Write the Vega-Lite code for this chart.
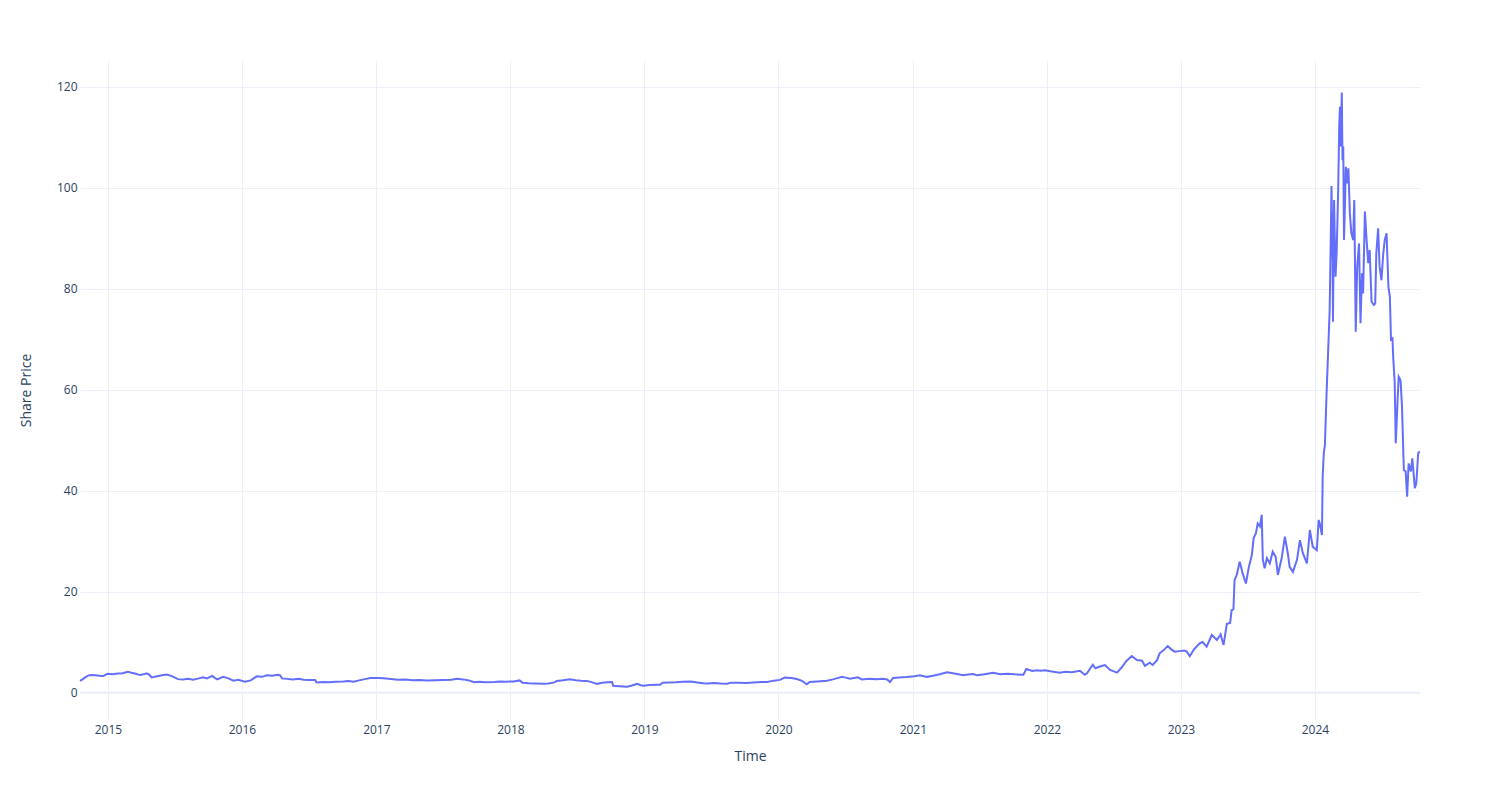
{
  "$schema": "https://vega.github.io/schema/vega-lite/v6.json",
  "width": 1340,
  "height": 660,
  "autosize": {"type": "none"},
  "padding": {"left": 80, "top": 60, "right": 80, "bottom": 80},
  "background": "white",
  "config": {"view": {"stroke": null}, "font": "Open Sans"},
  "datasets": {
    "prices": [
      {"date":"2014-10-17","price":2.3},{"date":"2014-10-24","price":2.6},{"date":"2014-10-31","price":3.0},{"date":"2014-11-07","price":3.3},{"date":"2014-11-14","price":3.45},{"date":"2014-11-28","price":3.4},{"date":"2014-12-10","price":3.3},{"date":"2014-12-19","price":3.25},{"date":"2014-12-31","price":3.7},
      {"date":"2015-01-14","price":3.6},{"date":"2015-01-28","price":3.75},{"date":"2015-02-10","price":3.8},{"date":"2015-02-24","price":4.1},{"date":"2015-03-06","price":3.9},{"date":"2015-03-18","price":3.7},{"date":"2015-03-29","price":3.45},{"date":"2015-04-08","price":3.6},{"date":"2015-04-17","price":3.8},{"date":"2015-04-24","price":3.5},{"date":"2015-04-30","price":3.0},{"date":"2015-05-15","price":3.2},{"date":"2015-05-29","price":3.4},{"date":"2015-06-10","price":3.55},{"date":"2015-06-22","price":3.3},{"date":"2015-07-01","price":3.0},{"date":"2015-07-11","price":2.65},{"date":"2015-07-25","price":2.6},{"date":"2015-08-07","price":2.7},{"date":"2015-08-21","price":2.55},{"date":"2015-09-03","price":2.75},{"date":"2015-09-17","price":3.0},{"date":"2015-09-28","price":2.8},{"date":"2015-10-12","price":3.3},{"date":"2015-10-19","price":2.9},{"date":"2015-10-26","price":2.6},{"date":"2015-11-11","price":3.1},{"date":"2015-11-25","price":2.8},{"date":"2015-12-09","price":2.35},{"date":"2015-12-22","price":2.5},
      {"date":"2016-01-09","price":2.15},{"date":"2016-01-25","price":2.4},{"date":"2016-02-10","price":3.2},{"date":"2016-02-24","price":3.1},{"date":"2016-03-09","price":3.4},{"date":"2016-03-23","price":3.3},{"date":"2016-04-08","price":3.5},{"date":"2016-04-14","price":3.4},{"date":"2016-04-19","price":2.8},{"date":"2016-05-03","price":2.7},{"date":"2016-05-19","price":2.6},{"date":"2016-06-03","price":2.7},{"date":"2016-06-17","price":2.55},{"date":"2016-07-01","price":2.5},{"date":"2016-07-18","price":2.5},{"date":"2016-07-22","price":2.0},{"date":"2016-08-10","price":2.1},{"date":"2016-08-25","price":2.05},{"date":"2016-09-12","price":2.15},{"date":"2016-10-03","price":2.2},{"date":"2016-10-17","price":2.3},{"date":"2016-10-31","price":2.15},{"date":"2016-11-15","price":2.4},{"date":"2016-12-01","price":2.65},{"date":"2016-12-16","price":2.85},
      {"date":"2017-01-05","price":2.85},{"date":"2017-01-20","price":2.8},{"date":"2017-02-09","price":2.68},{"date":"2017-03-01","price":2.55},{"date":"2017-03-20","price":2.6},{"date":"2017-04-10","price":2.45},{"date":"2017-04-28","price":2.5},{"date":"2017-05-20","price":2.4},{"date":"2017-06-12","price":2.45},{"date":"2017-07-03","price":2.5},{"date":"2017-07-24","price":2.55},{"date":"2017-08-10","price":2.7},{"date":"2017-08-25","price":2.6},{"date":"2017-09-10","price":2.4},{"date":"2017-09-24","price":2.05},{"date":"2017-10-10","price":2.15},{"date":"2017-10-25","price":2.05},{"date":"2017-11-18","price":2.08},{"date":"2017-12-05","price":2.2},{"date":"2017-12-20","price":2.15},
      {"date":"2018-01-10","price":2.2},{"date":"2018-01-26","price":2.4},{"date":"2018-02-03","price":1.95},{"date":"2018-02-20","price":1.85},{"date":"2018-03-10","price":1.8},{"date":"2018-03-30","price":1.75},{"date":"2018-04-15","price":1.8},{"date":"2018-05-01","price":2.0},{"date":"2018-05-07","price":2.3},{"date":"2018-05-25","price":2.45},{"date":"2018-06-12","price":2.6},{"date":"2018-06-28","price":2.45},{"date":"2018-07-12","price":2.35},{"date":"2018-07-28","price":2.3},{"date":"2018-08-10","price":2.05},{"date":"2018-08-25","price":1.7},{"date":"2018-09-08","price":1.95},{"date":"2018-09-22","price":2.05},{"date":"2018-10-05","price":2.08},{"date":"2018-10-08","price":1.35},{"date":"2018-10-25","price":1.25},{"date":"2018-11-15","price":1.15},{"date":"2018-11-28","price":1.4},{"date":"2018-12-12","price":1.7},{"date":"2018-12-22","price":1.45},{"date":"2018-12-29","price":1.35},
      {"date":"2019-01-15","price":1.5},{"date":"2019-02-01","price":1.55},{"date":"2019-02-13","price":1.55},{"date":"2019-02-19","price":1.95},{"date":"2019-03-08","price":2.0},{"date":"2019-03-28","price":2.05},{"date":"2019-04-15","price":2.15},{"date":"2019-05-06","price":2.2},{"date":"2019-05-25","price":2.0},{"date":"2019-06-10","price":1.85},{"date":"2019-06-22","price":1.8},{"date":"2019-07-10","price":1.9},{"date":"2019-07-28","price":1.8},{"date":"2019-08-15","price":1.75},{"date":"2019-08-24","price":1.95},{"date":"2019-09-15","price":1.95},{"date":"2019-10-05","price":1.9},{"date":"2019-10-25","price":2.0},{"date":"2019-11-15","price":2.1},{"date":"2019-12-01","price":2.1},{"date":"2019-12-19","price":2.35},
      {"date":"2020-01-05","price":2.5},{"date":"2020-01-18","price":2.95},{"date":"2020-02-05","price":2.85},{"date":"2020-02-20","price":2.68},{"date":"2020-03-05","price":2.3},{"date":"2020-03-18","price":1.62},{"date":"2020-03-26","price":2.08},{"date":"2020-04-15","price":2.2},{"date":"2020-05-12","price":2.35},{"date":"2020-05-28","price":2.6},{"date":"2020-06-10","price":2.85},{"date":"2020-06-22","price":3.1},{"date":"2020-07-02","price":2.95},{"date":"2020-07-14","price":2.75},{"date":"2020-08-04","price":3.0},{"date":"2020-08-15","price":2.6},{"date":"2020-09-05","price":2.7},{"date":"2020-09-25","price":2.65},{"date":"2020-10-10","price":2.7},{"date":"2020-10-23","price":2.6},{"date":"2020-10-31","price":2.08},{"date":"2020-11-08","price":2.87},{"date":"2020-11-25","price":2.95},{"date":"2020-12-15","price":3.05},
      {"date":"2021-01-05","price":3.2},{"date":"2021-01-20","price":3.4},{"date":"2021-02-08","price":3.1},{"date":"2021-02-25","price":3.3},{"date":"2021-03-15","price":3.6},{"date":"2021-04-04","price":4.0},{"date":"2021-04-20","price":3.8},{"date":"2021-05-05","price":3.6},{"date":"2021-05-18","price":3.4},{"date":"2021-06-01","price":3.55},{"date":"2021-06-14","price":3.67},{"date":"2021-06-25","price":3.4},{"date":"2021-07-15","price":3.6},{"date":"2021-08-08","price":3.93},{"date":"2021-08-27","price":3.6},{"date":"2021-09-15","price":3.7},{"date":"2021-10-05","price":3.6},{"date":"2021-10-29","price":3.53},{"date":"2021-11-06","price":4.66},{"date":"2021-11-22","price":4.26},{"date":"2021-12-05","price":4.4},{"date":"2021-12-14","price":4.32},{"date":"2021-12-28","price":4.4},
      {"date":"2022-01-10","price":4.2},{"date":"2022-02-05","price":3.93},{"date":"2022-02-20","price":4.1},{"date":"2022-03-10","price":4.0},{"date":"2022-04-01","price":4.3},{"date":"2022-04-14","price":3.53},{"date":"2022-04-20","price":3.8},{"date":"2022-05-06","price":5.5},{"date":"2022-05-13","price":4.8},{"date":"2022-05-20","price":5.0},{"date":"2022-06-01","price":5.3},{"date":"2022-06-08","price":5.45},{"date":"2022-06-22","price":4.46},{"date":"2022-07-11","price":3.93},{"date":"2022-07-24","price":5.0},{"date":"2022-08-05","price":6.2},{"date":"2022-08-20","price":7.23},{"date":"2022-09-03","price":6.44},{"date":"2022-09-17","price":6.3},{"date":"2022-09-25","price":5.3},{"date":"2022-10-08","price":5.9},{"date":"2022-10-16","price":5.45},{"date":"2022-10-28","price":6.4},{"date":"2022-11-04","price":7.77},{"date":"2022-11-15","price":8.4},{"date":"2022-11-26","price":9.2},{"date":"2022-12-05","price":8.6},{"date":"2022-12-15","price":8.1},{"date":"2022-12-28","price":8.2},
      {"date":"2023-01-10","price":8.3},{"date":"2023-01-17","price":8.1},{"date":"2023-01-25","price":7.2},{"date":"2023-02-05","price":8.5},{"date":"2023-02-21","price":9.75},{"date":"2023-03-01","price":10.0},{"date":"2023-03-12","price":9.1},{"date":"2023-03-26","price":11.4},{"date":"2023-04-09","price":10.4},{"date":"2023-04-19","price":11.5},{"date":"2023-04-27","price":9.4},{"date":"2023-05-06","price":13.6},{"date":"2023-05-15","price":13.8},{"date":"2023-05-19","price":16.3},{"date":"2023-05-24","price":16.5},{"date":"2023-05-27","price":22.3},{"date":"2023-06-02","price":23.3},{"date":"2023-06-10","price":25.9},{"date":"2023-06-14","price":24.8},{"date":"2023-06-18","price":23.6},{"date":"2023-06-27","price":21.6},{"date":"2023-07-05","price":24.9},{"date":"2023-07-13","price":27.2},{"date":"2023-07-18","price":30.6},{"date":"2023-07-24","price":31.5},{"date":"2023-07-29","price":33.5},{"date":"2023-08-04","price":32.9},{"date":"2023-08-09","price":35.2},{"date":"2023-08-12","price":26.3},{"date":"2023-08-17","price":24.6},{"date":"2023-08-23","price":26.6},{"date":"2023-08-31","price":25.6},{"date":"2023-09-08","price":27.9},{"date":"2023-09-16","price":26.9},{"date":"2023-09-22","price":23.3},{"date":"2023-10-03","price":26.9},{"date":"2023-10-11","price":30.9},{"date":"2023-10-19","price":27.6},{"date":"2023-10-24","price":24.9},{"date":"2023-11-02","price":23.9},{"date":"2023-11-13","price":26.3},{"date":"2023-11-21","price":30.2},{"date":"2023-11-29","price":27.6},{"date":"2023-12-10","price":25.6},{"date":"2023-12-18","price":32.2},{"date":"2023-12-26","price":28.9},
      {"date":"2024-01-06","price":28.2},{"date":"2024-01-11","price":34.2},{"date":"2024-01-14","price":33.5},{"date":"2024-01-20","price":31.2},{"date":"2024-01-22","price":42.8},{"date":"2024-01-25","price":47.4},{"date":"2024-01-28","price":49.0},{"date":"2024-02-01","price":58.0},{"date":"2024-02-06","price":67.9},{"date":"2024-02-10","price":75.8},{"date":"2024-02-13","price":90.0},{"date":"2024-02-15","price":100.4},{"date":"2024-02-18","price":85.7},{"date":"2024-02-19","price":73.5},{"date":"2024-02-22","price":97.6},{"date":"2024-02-26","price":82.4},{"date":"2024-02-29","price":87.1},{"date":"2024-03-04","price":98.9},{"date":"2024-03-07","price":112.1},{"date":"2024-03-09","price":116.1},{"date":"2024-03-11","price":108.2},{"date":"2024-03-14","price":118.9},{"date":"2024-03-16","price":105.5},{"date":"2024-03-18","price":108.2},{"date":"2024-03-20","price":89.7},{"date":"2024-03-22","price":95.0},{"date":"2024-03-25","price":104.2},{"date":"2024-03-29","price":100.9},{"date":"2024-04-01","price":103.9},{"date":"2024-04-05","price":95.0},{"date":"2024-04-09","price":91.0},{"date":"2024-04-14","price":89.7},{"date":"2024-04-17","price":97.6},{"date":"2024-04-21","price":71.5},{"date":"2024-04-25","price":84.4},{"date":"2024-04-30","price":89.0},{"date":"2024-05-04","price":73.2},{"date":"2024-05-08","price":83.1},{"date":"2024-05-11","price":79.1},{"date":"2024-05-16","price":95.3},{"date":"2024-05-20","price":90.3},{"date":"2024-05-25","price":85.1},{"date":"2024-05-29","price":87.7},{"date":"2024-06-03","price":77.5},{"date":"2024-06-09","price":76.8},{"date":"2024-06-13","price":77.1},{"date":"2024-06-16","price":87.0},{"date":"2024-06-21","price":92.0},{"date":"2024-06-25","price":84.4},{"date":"2024-06-30","price":81.7},{"date":"2024-07-05","price":87.0},{"date":"2024-07-09","price":89.7},{"date":"2024-07-14","price":91.0},{"date":"2024-07-19","price":80.4},{"date":"2024-07-23","price":78.4},{"date":"2024-07-26","price":70.0},{"date":"2024-07-30","price":70.2},{"date":"2024-08-01","price":66.5},{"date":"2024-08-05","price":61.6},{"date":"2024-08-08","price":49.4},{"date":"2024-08-13","price":58.0},{"date":"2024-08-16","price":62.6},{"date":"2024-08-21","price":61.9},{"date":"2024-08-25","price":56.6},{"date":"2024-08-30","price":44.1},{"date":"2024-09-04","price":43.8},{"date":"2024-09-08","price":38.8},{"date":"2024-09-12","price":45.4},{"date":"2024-09-18","price":43.8},{"date":"2024-09-22","price":46.4},{"date":"2024-09-29","price":40.5},{"date":"2024-10-03","price":41.5},{"date":"2024-10-08","price":47.4},{"date":"2024-10-12","price":47.8}
    ],
    "zero": [{"price": 0}]
  },
  "layer": [
    {
      "data": {"name": "zero"},
      "mark": {"type": "rule", "color": "#EBF0F8", "strokeWidth": 2},
      "encoding": {
        "y": {"field": "price", "type": "quantitative", "scale": {"domain": [-5.45, 125.35], "nice": false, "zero": false}}
      }
    },
    {
      "data": {"name": "prices"},
      "mark": {"type": "line", "color": "#636efa", "strokeWidth": 2},
      "encoding": {
        "x": {
          "field": "date", "type": "temporal",
          "scale": {"type": "utc", "domain": [{"year": 2014, "month": 10, "date": 17, "utc": true}, {"year": 2024, "month": 10, "date": 13, "utc": true}], "nice": false},
          "axis": {
            "title": "Time", "format": "%Y", "formatType": "utc",
            "tickCount": {"interval": "year", "step": 1},
            "grid": true, "gridColor": "#EBF0F8", "gridWidth": 1,
            "domain": false, "ticks": false, "labelPadding": 4,
            "labelFont": "Open Sans", "labelFontSize": 12, "labelColor": "#2a3f5f",
            "titleFont": "Open Sans", "titleFontSize": 14, "titleFontWeight": "normal", "titleColor": "#2a3f5f", "titlePadding": 14
          }
        },
        "y": {
          "field": "price", "type": "quantitative",
          "scale": {"domain": [-5.45, 125.35], "nice": false, "zero": false},
          "axis": {
            "title": "Share Price", "values": [0, 20, 40, 60, 80, 100, 120],
            "grid": true, "gridColor": "#EBF0F8", "gridWidth": 1,
            "domain": false, "ticks": false, "labelPadding": 3,
            "labelFont": "Open Sans", "labelFontSize": 12, "labelColor": "#2a3f5f",
            "titleFont": "Open Sans", "titleFontSize": 14, "titleFontWeight": "normal", "titleColor": "#2a3f5f", "titlePadding": 23
          }
        }
      }
    }
  ]
}
